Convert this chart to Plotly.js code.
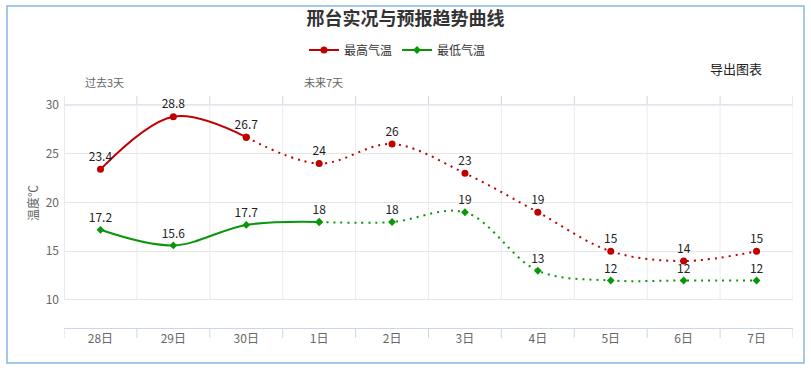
<!DOCTYPE html>
<html>
<head>
<meta charset="utf-8">
<script src="https://cdn.plot.ly/plotly-3.0.1.min.js"></script>
<style>html,body{margin:0;padding:0;background:#fff;}#chart{width:811px;height:370px;}</style>
</head>
<body>
<div id="chart"></div>
<script>
var categories = ['28日','29日','30日','1日','2日','3日','4日','5日','6日','7日'];
var maxTemp = [23.4, 28.8, 26.7, 24, 26, 23, 19, 15, 14, 15];
var minTemp = [17.2, 15.6, 17.7, 18, 18, 19, 13, 12, 12, 12];
var maxObservedCount = 3;   // 实况 points for 最高气温 (solid)
var minObservedCount = 4;   // solid points for 最低气温
var yTicks = [10, 15, 20, 25, 30];

var FONT = '"Noto Sans CJK SC", "Noto Sans", sans-serif';
var RED = '#c00000', GREEN = '#0a960a';

function fmt(v){ return String(v); }

function seriesTraces(name, vals, nSolid, color, symbol, msize){
  var idx = categories.map(function(_, i){ return i; });
  var solidX = idx.slice(0, nSolid), solidY = vals.slice(0, nSolid);
  var dotX = idx.slice(nSolid - 1), dotY = vals.slice(nSolid - 1);
  var solidText = solidY.map(fmt);
  var dotText = dotY.map(function(v, i){ return i === 0 ? '' : fmt(v); });
  return [
    {x: solidX, y: solidY, text: solidText, name: name, legendgroup: name,
     mode: 'lines+markers+text', type: 'scatter', cliponaxis: false,
     line: {color: color, width: 2, shape: 'spline', smoothing: 1},
     marker: {color: color, size: msize, symbol: symbol},
     textposition: 'top center', textfont: {family: FONT, size: 12, color: '#222'}},
    {x: dotX, y: dotY, text: dotText, name: name, legendgroup: name, showlegend: false,
     mode: 'lines+markers+text', type: 'scatter', cliponaxis: false,
     line: {color: color, width: 2, shape: 'spline', smoothing: 1, dash: '2px,5px'},
     marker: {color: color, size: msize, symbol: symbol},
     textposition: 'top center', textfont: {family: FONT, size: 12, color: '#222'}}
  ];
}

var data = [].concat(
  seriesTraces('最高气温', maxTemp, maxObservedCount, RED, 'circle', 7),
  seriesTraces('最低气温', minTemp, minObservedCount, GREEN, 'diamond', 6)
);

// pixel geometry helpers
var L = 64, R = 793, T = 96, B = 328, W = 811, H = 370;
function px(x){ return (x - L) / (R - L); }
function py(y){ return (B - y) / (B - T); }

var shapes = [];
var n = categories.length;
for (var k = 0; k <= n; k++) {
  shapes.push({type: 'line', xref: 'x', yref: 'y', x0: k - 0.5, x1: k - 0.5,
    y0: yTicks[0], y1: yTicks[yTicks.length - 1],
    line: {color: k === 0 ? '#ccd6eb' : '#ececec', width: 1}, layer: 'below'});
  shapes.push({type: 'line', xref: 'x', yref: 'paper', x0: k - 0.5, x1: k - 0.5,
    y0: py(105), y1: 1, line: {color: '#ccd6eb', width: 1}, layer: 'below'});
  shapes.push({type: 'line', xref: 'x', yref: 'paper', x0: k - 0.5, x1: k - 0.5,
    y0: 0, y1: py(338), line: {color: '#ccd6eb', width: 1}});
}
shapes.push({type: 'line', xref: 'paper', yref: 'y', x0: 0, x1: 1,
  y0: yTicks[yTicks.length - 1], y1: yTicks[yTicks.length - 1],
  line: {color: '#ccd6eb', width: 1}, layer: 'below'});
shapes.push({type: 'rect', xref: 'paper', yref: 'paper',
  x0: px(7), x1: px(804), y0: py(363), y1: py(6),
  line: {color: '#86b7e6', width: 1.5}, fillcolor: 'rgba(0,0,0,0)'});

var layout = {
  width: W, height: H,
  margin: {l: L, r: W - R, t: T, b: H - B, pad: 0},
  paper_bgcolor: '#fff', plot_bgcolor: '#fff',
  font: {family: FONT, size: 12, color: '#666'},
  title: {text: '邢台实况与预报趋势曲线', x: 0.5, xref: 'container', xanchor: 'center',
    y: 1 - 19 / H, yref: 'container', yanchor: 'middle',
    font: {family: FONT, size: 18, color: '#333', weight: 'bold'}},
  showlegend: true,
  legend: {orientation: 'h', x: px(397), xanchor: 'center', y: py(50), yanchor: 'middle',
    font: {family: FONT, size: 12, color: '#333'}, itemwidth: 30, tracegroupgap: 0,
    entrywidth: 48, bgcolor: 'rgba(0,0,0,0)'},
  xaxis: {type: 'linear', range: [-0.5, n - 0.5], tickvals: categories.map(function(_, i){ return i; }),
    ticktext: categories, showgrid: false, zeroline: false,
    showline: true, linecolor: '#ccd6eb', linewidth: 1, ticks: '',
    tickfont: {family: FONT, size: 12, color: '#666'}, fixedrange: true},
  yaxis: {range: [7.128, 30.92], tickvals: yTicks, showgrid: true, gridcolor: '#e6e6e6',
    zeroline: false, showline: false, ticks: '', ticklabelstandoff: 4,
    tickfont: {family: FONT, size: 12, color: '#666'}, fixedrange: true},
  shapes: shapes,
  annotations: [
    {text: '导出图表', xref: 'paper', yref: 'paper', x: px(736), y: py(68), showarrow: false,
     xanchor: 'center', yanchor: 'middle', font: {family: FONT, size: 13, color: '#222'}},
    {text: '过去3天', xref: 'paper', yref: 'paper', x: px(104), y: py(82), showarrow: false,
     xanchor: 'center', yanchor: 'middle', font: {family: FONT, size: 11, color: '#666'}},
    {text: '未来7天', xref: 'paper', yref: 'paper', x: px(323), y: py(82), showarrow: false,
     xanchor: 'center', yanchor: 'middle', font: {family: FONT, size: 11, color: '#666'}},
    {text: '温度℃', xref: 'paper', yref: 'paper', x: px(32), y: py(203), showarrow: false,
     textangle: -90, xanchor: 'center', yanchor: 'middle', font: {family: FONT, size: 12, color: '#666'}}
  ]
};

Plotly.newPlot('chart', data, layout, {displayModeBar: false, staticPlot: true});
</script>
</body>
</html>
